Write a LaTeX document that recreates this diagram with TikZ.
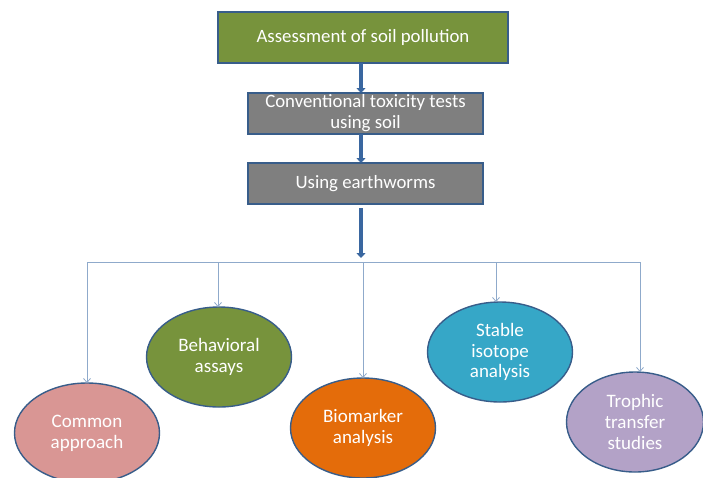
\documentclass[tikz,border=0pt]{standalone}
\usepackage{fontspec}
\setmainfont{Carlito}
\usetikzlibrary{shapes.geometric,arrows.meta}

\definecolor{boxgreen}{HTML}{77933C}
\definecolor{boxgray}{HTML}{7F7F7F}
\definecolor{edgeblue}{HTML}{385D8A}
\definecolor{arrowblue}{HTML}{3A67A0}
\definecolor{linkblue}{HTML}{8FAACB}
\definecolor{fillpink}{HTML}{D99694}
\definecolor{fillorange}{HTML}{E46C0A}
\definecolor{fillteal}{HTML}{36A7C7}
\definecolor{fillpurple}{HTML}{B3A2C7}

\tikzset{
  stagebox/.style={draw=edgeblue, line width=1.3pt, text=white, align=center,
    font=\fontsize{18.8}{21}\selectfont, inner sep=0pt},
  method/.style={ellipse, draw=edgeblue, line width=1.4pt, text=white, align=center,
    font=\fontsize{19}{20.8}\selectfont, inner sep=0pt,
    minimum width=145pt, minimum height=100pt},
  bigarrow/.style={draw=arrowblue, line width=3.5pt,
    -{Triangle[width=9pt,length=5pt]}},
  link/.style={draw=linkblue, line width=1pt,
    -{Straight Barb[width=7pt,length=4pt,line width=0.8pt]}},
}

\begin{document}
\begin{tikzpicture}[x=1pt, y=-1pt]
  \useasboundingbox (0,0) rectangle (703,477);
  \clip (0,0) rectangle (703,477);

  % chain of stages
  \node[stagebox, fill=boxgreen, minimum width=290pt, minimum height=51pt]
    (assess) at (363,37.5) {Assessment of soil pollution};
  \node[stagebox, fill=boxgray, minimum width=235pt, minimum height=41pt]
    (conv) at (365.5,113.5) {Conventional toxicity tests\\using soil};
  \node[stagebox, fill=boxgray, minimum width=235pt, minimum height=41pt]
    (worm) at (365.5,183.5) {Using earthworms};

  \draw[bigarrow] (361,63) -- (361,93);
  \draw[bigarrow] (361,134) -- (361,163);

  % distribution bus
  \coordinate (b1)   at (87,262);
  \coordinate (b2)   at (218,262);
  \coordinate (b3)   at (363,262);
  \coordinate (b4)   at (496,262);
  \coordinate (b5)   at (640,262);
  \coordinate (wtop) at (361,208);
  \draw[bigarrow] (wtop) -- (361,258);
  \draw[linkblue, line width=1pt] (b1) -- (b5);

  % approaches
  \node[method, fill=fillpink]   (common) at (87,433)  {Common\\approach};
  \node[method, fill=boxgreen]   (behav)  at (219,357) {Behavioral\\assays};
  \node[method, fill=fillorange] (biom)   at (363,428) {Biomarker\\analysis};
  \node[method, fill=fillteal]   (stable) at (500,352) {Stable\\isotope\\analysis};
  \node[method, fill=fillpurple, minimum width=137pt] (troph) at (635,422) {Trophic\\transfer\\studies};

  \draw[link] (b1) -- (87,383);
  \draw[link] (b2) -- (218,307);
  \draw[link] (b3) -- (363,378);
  \draw[link] (b4) -- (496,302);
  \draw[link] (b5) -- (640,372);
\end{tikzpicture}
\end{document}
